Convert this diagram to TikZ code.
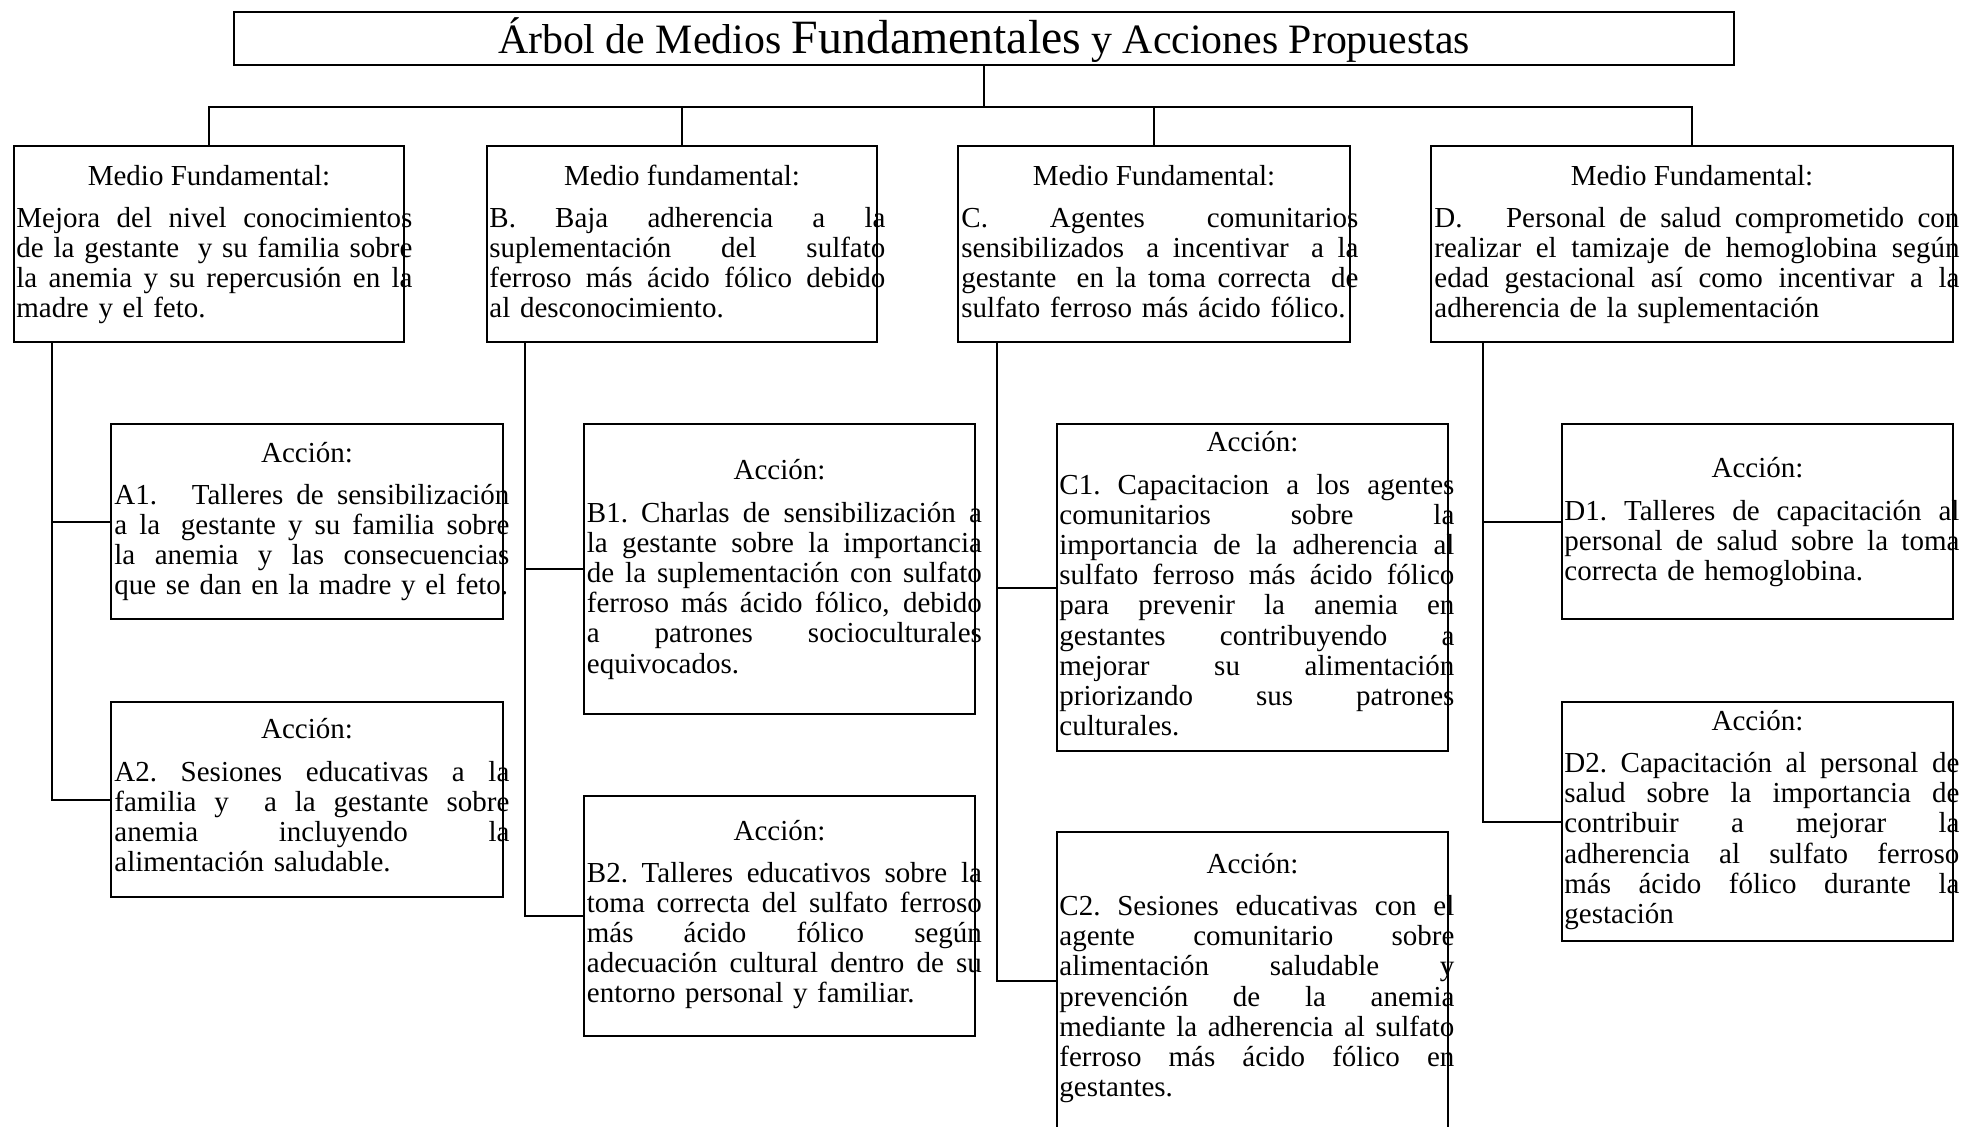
\documentclass[tikz,border=0pt]{standalone}
\usepackage{fontspec}
\setmainfont{Liberation Serif}
\usetikzlibrary{fit,calc}
\newcommand{\jl}[1]{\noindent\hbox to\hsize{\spaceskip=.25em plus 1fil\xspaceskip=\spaceskip\relax #1}\\}
\begin{document}
\begin{tikzpicture}[x=0.5pt,y=-0.5pt,
  box/.style={draw, line width=1pt, inner sep=0pt},
  txt/.style={font=\fontsize{14.5}{15.1}\selectfont, inner sep=0pt},
  hdr/.style={txt, anchor=base},
  body/.style={txt, anchor=base west, text width=197.5pt},
  wire/.style={line width=1pt}]
\useasboundingbox (0,0) rectangle (1962,1126);
\clip (0,0) rectangle (1962,1126);
\fill[white] (0,0) rectangle (1962,1126);

% title
\node[box, fit={(234,12) (1734,65)}] (T) {};
\node[anchor=base, inner sep=0pt, font=\fontsize{20.9}{24}\selectfont] (Tt) at (984,53)
  {Árbol de Medios {\fontsize{23.9}{26}\selectfont Fundamentales} y Acciones Propuestas};

% medios fundamentales
\node[box, fit={(14,146) (404,342)}] (MA) {};
\node[box, fit={(487,146) (877,342)}] (MB) {};
\node[box, fit={(958,146) (1350,342)}] (MC) {};
\node[box, fit={(1431,146) (1953,342)}] (MD) {};

\node[hdr] (MAh) at (209,185) {Medio Fundamental:};
\node[hdr] (MBh) at (682,185) {Medio fundamental:};
\node[hdr] (MCh) at (1154,185) {Medio Fundamental:};
\node[hdr] (MDh) at (1692,185) {Medio Fundamental:};

\node[body, text width=198pt] (MAb) at (16,227)
  {\jl{Mejora del nivel conocimientos}\jl{de la gestante\hspace{0.3em} y su familia sobre}\jl{la anemia y su repercusión en la}madre y el feto.};
\node[body, text width=198pt] (MBb) at (489,227)
  {\jl{B. Baja adherencia a la}\jl{suplementación del sulfato}\jl{ferroso más ácido fólico debido}al desconocimiento.};
\node[body, text width=198.5pt] (MCb) at (961,227)
  {\jl{C. Agentes comunitarios}\jl{sensibilizados\hspace{0.3em} a incentivar\hspace{0.3em} a la}\jl{gestante\hspace{0.3em} en la toma correcta\hspace{0.3em} de}sulfato ferroso más ácido fólico.};
\node[body, text width=262.5pt] (MDb) at (1434,227)
  {\jl{D.\hspace{1.5em}Personal de salud comprometido con}\jl{realizar el tamizaje de hemoglobina según}\jl{edad gestacional así como incentivar a la}adherencia de la suplementación};

% acciones
\node[box, fit={(111,424) (503,619)}] (A1) {};
\node[box, fit={(111,702) (503,897)}] (A2) {};
\node[box, fit={(584,424) (975,714)}] (B1) {};
\node[box, fit={(584,796) (975,1036)}] (B2) {};
\node[box, fit={(1057,424) (1448,751)}] (C1) {};
\node[box, fit={(1057,832) (1448,1130)}] (C2) {};
\node[box, fit={(1562,424) (1953,619)}] (D1) {};
\node[box, fit={(1562,702) (1953,941)}] (D2) {};

\node[hdr] (A1h) at (307,462) {Acción:};
\node[hdr] (A2h) at (307,738) {Acción:};
\node[hdr] (B1h) at (779.5,479) {Acción:};
\node[hdr] (B2h) at (779.5,840) {Acción:};
\node[hdr] (C1h) at (1252.5,451.5) {Acción:};
\node[hdr] (C2h) at (1252.5,873) {Acción:};
\node[hdr] (D1h) at (1757.5,477) {Acción:};
\node[hdr] (D2h) at (1757.5,730) {Acción:};

\node[body] (A1b) at (114,504)
  {\jl{A1.\hspace{1.2em}Talleres de sensibilización}\jl{a la\hspace{0.3em} gestante y su familia sobre}\jl{la anemia y las consecuencias}que se dan en la madre y el feto.};
\node[body] (A2b) at (114,781)
  {\jl{A2. Sesiones educativas a la}\jl{familia y\hspace{0.6em} a la gestante sobre}\jl{anemia incluyendo la}alimentación saludable.};
\node[body] (B1b) at (586.5,522)
  {\jl{B1. Charlas de sensibilización a}\jl{la gestante sobre la importancia}\jl{de la suplementación con sulfato}\jl{ferroso más ácido fólico, debido}\jl{a patrones socioculturales}equivocados.};
\node[body] (B2b) at (586.5,882)
  {\jl{B2. Talleres educativos sobre la}\jl{toma correcta del sulfato ferroso}\jl{más ácido fólico según}\jl{adecuación cultural dentro de su}entorno personal y familiar.};
\node[body] (C1b) at (1059,494)
  {\jl{C1. Capacitacion a los agentes}\jl{comunitarios sobre la}\jl{importancia de la adherencia al}\jl{sulfato ferroso más ácido fólico}\jl{para prevenir la anemia en}\jl{gestantes contribuyendo a}\jl{mejorar su alimentación}\jl{priorizando sus patrones}culturales.};
\node[body] (C2b) at (1059,915.5)
  {\jl{C2. Sesiones educativas con el}\jl{agente comunitario sobre}\jl{alimentación saludable y}\jl{prevención de la anemia}\jl{mediante la adherencia al sulfato}\jl{ferroso más ácido fólico en}gestantes.};
\node[body] (D1b) at (1564,520)
  {\jl{D1. Talleres de capacitación al}\jl{personal de salud sobre la toma}correcta de hemoglobina.};
\node[body] (D2b) at (1564,772.5)
  {\jl{D2. Capacitación al personal de}\jl{salud sobre la importancia de}\jl{contribuir a mejorar la}\jl{adherencia al sulfato ferroso}\jl{más ácido fólico durante la}gestación};

% connectors: title to medios
\draw[wire] (T.south) -- ++(0,41) coordinate (J);
\draw[wire] (MA.north) |- (J) -| (MD.north);
\draw[wire] (MB.north) -- (MB.north |- J);
\draw[wire] (MC.north) -- (MC.north |- J);

% connectors: medios to acciones
\coordinate (ta) at ([xshift=19.5pt]MA.south west);
\coordinate (tb) at ([xshift=19.25pt]MB.south west);
\coordinate (tc) at ([xshift=20pt]MC.south west);
\coordinate (td) at ([xshift=26.5pt]MD.south west);
\draw[wire] (ta) |- (A2.west);
\draw[wire] (ta |- A1.west) -- (A1.west);
\draw[wire] (tb) |- (B2.west);
\draw[wire] (tb |- B1.west) -- (B1.west);
\draw[wire] (tc) |- (C2.west);
\draw[wire] (tc |- C1.west) -- (C1.west);
\draw[wire] (td) |- (D2.west);
\draw[wire] (td |- D1.west) -- (D1.west);
\end{tikzpicture}
\end{document}
